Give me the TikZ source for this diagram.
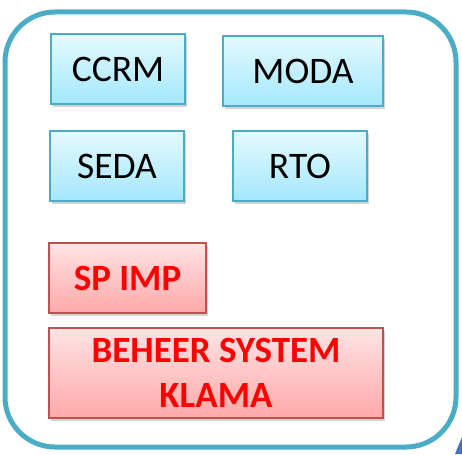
\documentclass[tikz,border=0pt]{standalone}
\usepackage{fontspec}
\setmainfont{Carlito}
\usetikzlibrary{shadows}

\definecolor{framecol}{HTML}{4BACC6}
\definecolor{bluetop}{HTML}{E4F9FF}
\definecolor{bluebot}{HTML}{A4E8FB}
\definecolor{redtop}{HTML}{FFE4E4}
\definecolor{redbot}{HTML}{FFA8A8}
\definecolor{redline}{HTML}{C0504D}
\definecolor{redtext}{HTML}{FF0000}
\definecolor{cornercol}{HTML}{4472C4}

\tikzset{
  bluebox/.style={draw=framecol, line width=1.3pt, top color=bluetop, bottom color=bluebot,
    drop shadow={shadow xshift=1.5pt, shadow yshift=-3pt, opacity=0.35},
    inner sep=0pt, font=\fontsize{37.5}{44}\selectfont},
  redbox/.style={draw=redline, line width=1.3pt, top color=redtop, bottom color=redbot,
    drop shadow={shadow xshift=1.5pt, shadow yshift=-3pt, opacity=0.35},
    inner sep=0pt, text=redtext, align=center, font=\fontsize{37}{45}\selectfont\bfseries}
}

\begin{document}
\begin{tikzpicture}[x=1pt,y=-1pt]
\useasboundingbox (0,0) rectangle (462,454);

% outer frame
\draw[framecol, line width=5pt, rounded corners=50pt] (5,12) rectangle (456,447);
\fill[cornercol] (455,454)--(462,437)--(462,454)--cycle;

% blue boxes
\node[bluebox, minimum width=134pt, minimum height=70pt] (ccrm) at (118,69) {CCRM};
\node[bluebox, minimum width=160pt, minimum height=70pt] (moda) at (303,71) {MODA};
\node[bluebox, minimum width=134pt, minimum height=70pt] (seda) at (117,166) {SEDA};
\node[bluebox, minimum width=134pt, minimum height=70pt] (rto) at (300,166) {RTO};

% red boxes
\node[redbox, minimum width=157pt, minimum height=70pt] (spimp) at (127.5,278) {SP IMP};
\node[redbox, minimum width=334pt, minimum height=90pt] (klama) at (216,373) {BEHEER SYSTEM\\KLAMA};
\end{tikzpicture}
\end{document}
